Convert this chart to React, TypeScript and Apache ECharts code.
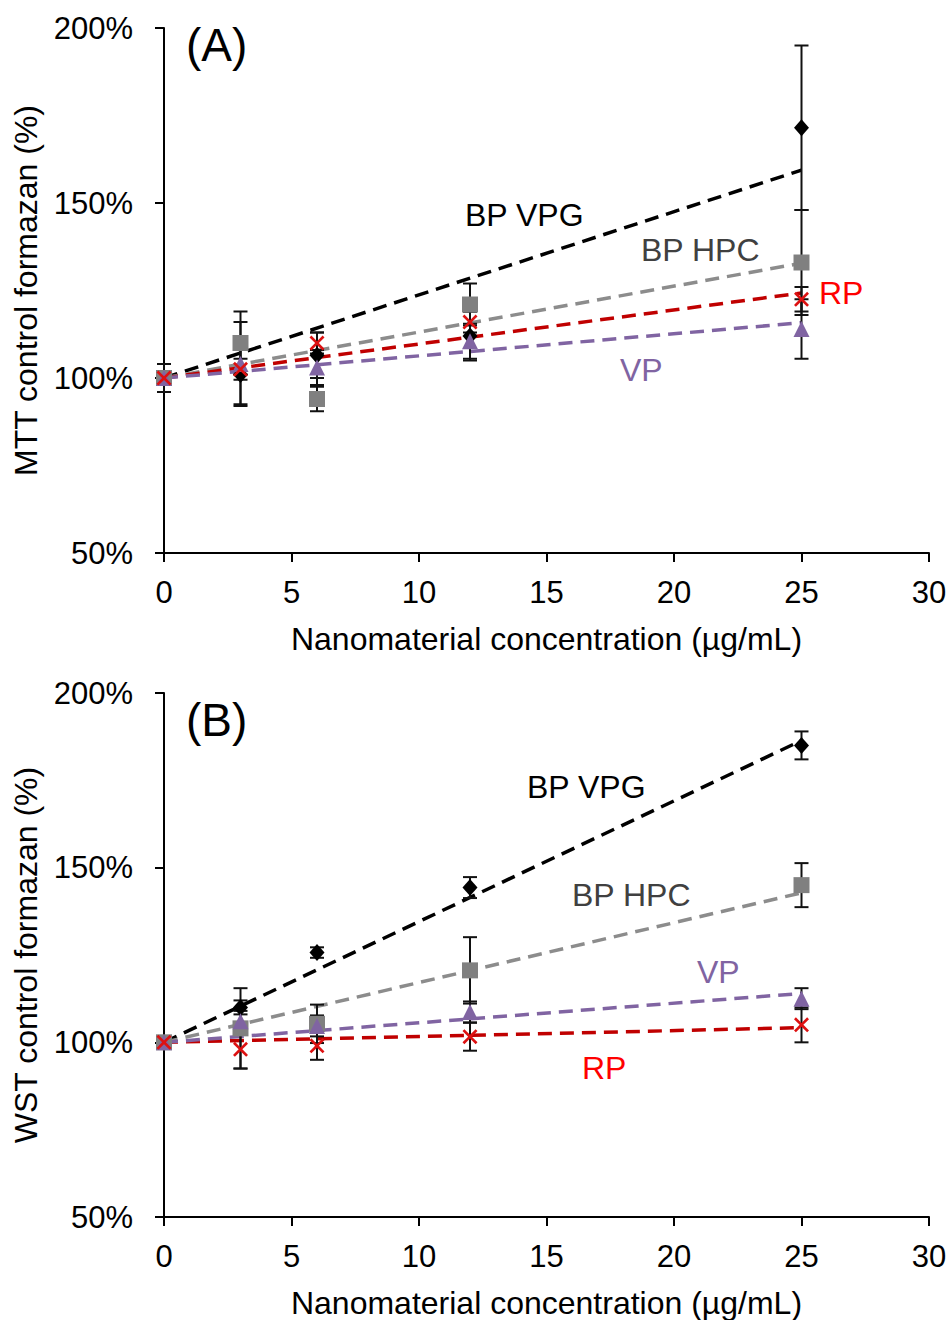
import React, { useEffect, useRef } from "react";
import * as echarts from "echarts";

// ---------- data ----------
const concentrations = [0, 3, 6, 12, 25];
const xTicksMax = 30;
const yMin = 50;
const yMax = 200;

// Panel A (MTT)
const mttVPG = [100, 101, 106.5, 112, 171.5];
const mttVPGErr = [4, 8.5, 6.5, 7, 23.5];
const mttHPC = [100, 110, 94, 121, 133];
const mttHPCErr = [2, 9, 3.5, 6, 15];
const mttRP = [100, 102.5, 110, 116, 122.5];
const mttRPErr = [2, 3, 3, 3, 3.5];
const mttVP = [100, 104, 103, 110.5, 114];
const mttVPErr = [2, 12, 5, 5, 8.5];
const mttTrendEnd = { VPG: 159.4, HPC: 132.8, RP: 124.3, VP: 115.8 };

// Panel B (WST)
const wstVPG = [100, 110, 125.7, 144.3, 185];
const wstVPGErr = [1, 2, 1.5, 3, 4];
const wstHPC = [100, 104, 105.3, 120.6, 145];
const wstHPCErr = [1, 11.5, 5.5, 9.5, 6.3];
const wstRP = [100, 98, 99, 101.6, 105];
const wstRPErr = [1, 5.5, 4, 4, 5];
const wstVP = [100, 106, 104.7, 108.7, 112.5];
const wstVPErr = [1, 3, 3, 3, 3];
const wstTrendEnd = { VPG: 186.4, HPC: 142.8, RP: 104.2, VP: 114 };

const trendStartX = 0;
const trendStartY = 100;
const trendEndX = 25;

const xAxisTitle = "Nanomaterial concentration (µg/mL)";
const yTitleA = "MTT control formazan (%)";
const yTitleB = "WST control formazan (%)";

// ---------- styles ----------
const FONT = "'Liberation Sans', Arial, sans-serif";
const FS = 31;
const FS_TITLE = 32;
const C_BLACK = "#000000";
const C_GRAY = "#808080";
const C_GRAY_LINE = "#8C8C8C";
const C_RED_LINE = "#C00000";
const C_RED_MARK = "#DD1111";
const C_RED_TEXT = "#FF0000";
const C_PURPLE = "#8064A2";
const X_SYMBOL =
  "path://M0,2.5 L2.5,0 L10,7.5 L17.5,0 L20,2.5 L12.5,10 L20,17.5 L17.5,20 L10,12.5 L2.5,20 L0,17.5 L7.5,10 Z";

const zip = (xs: number[], ys: number[]) => xs.map((x, i) => [x, ys[i]]);
const zip3 = (xs: number[], ys: number[], es: number[]) =>
  xs.map((x, i) => [x, ys[i], es[i]]);

function errorSeries(idx: number, ys: number[], es: number[]) {
  return {
    type: "custom",
    xAxisIndex: idx,
    yAxisIndex: idx,
    z: 3,
    data: zip3(concentrations, ys, es),
    encode: { x: 0, y: 1 },
    renderItem: (params: any, api: any) => {
      const x = api.value(0);
      const y = api.value(1);
      const e = api.value(2);
      const top = api.coord([x, y + e]);
      const bot = api.coord([x, y - e]);
      const hw = 7;
      const st = { stroke: "#111", lineWidth: 2 };
      return {
        type: "group",
        children: [
          { type: "line", shape: { x1: top[0], y1: top[1], x2: bot[0], y2: bot[1] }, style: st },
          { type: "line", shape: { x1: top[0] - hw, y1: top[1], x2: top[0] + hw, y2: top[1] }, style: st },
          { type: "line", shape: { x1: bot[0] - hw, y1: bot[1], x2: bot[0] + hw, y2: bot[1] }, style: st },
        ],
      };
    },
  };
}

function trendSeries(idx: number, end: number, color: string) {
  return {
    type: "line",
    xAxisIndex: idx,
    yAxisIndex: idx,
    z: 2,
    showSymbol: false,
    symbol: "none",
    silent: true,
    data: [
      [trendStartX, trendStartY],
      [trendEndX, end],
    ],
    lineStyle: { color, width: 3.5, type: [14, 8] },
  };
}

function markerSeries(idx: number, ys: number[], symbol: string, size: any, color: string) {
  return {
    type: "scatter",
    xAxisIndex: idx,
    yAxisIndex: idx,
    z: 4,
    symbol,
    symbolSize: size,
    data: zip(concentrations, ys),
    itemStyle: { color, opacity: 1 },
  };
}

function panelSeries(
  idx: number,
  d: { VPG: number[]; VPGe: number[]; HPC: number[]; HPCe: number[]; RP: number[]; RPe: number[]; VP: number[]; VPe: number[] },
  t: { VPG: number; HPC: number; RP: number; VP: number }
) {
  return [
    trendSeries(idx, t.VPG, C_BLACK),
    trendSeries(idx, t.HPC, C_GRAY_LINE),
    trendSeries(idx, t.RP, C_RED_LINE),
    trendSeries(idx, t.VP, C_PURPLE),
    errorSeries(idx, d.VPG, d.VPGe),
    errorSeries(idx, d.HPC, d.HPCe),
    errorSeries(idx, d.RP, d.RPe),
    errorSeries(idx, d.VP, d.VPe),
    markerSeries(idx, d.VPG, "diamond", [15, 17], C_BLACK),
    markerSeries(idx, d.HPC, "rect", 16, C_GRAY),
    markerSeries(idx, d.VP, "triangle", 16, C_PURPLE),
    markerSeries(idx, d.RP, X_SYMBOL, 15, C_RED_MARK),
  ];
}

function xAxis(idx: number) {
  return {
    type: "value",
    gridIndex: idx,
    min: 0,
    max: xTicksMax,
    interval: 5,
    name: xAxisTitle,
    nameLocation: "middle",
    nameGap: 70,
    nameTextStyle: { fontSize: FS_TITLE, fontFamily: FONT, color: "#000" },
    axisLine: { onZero: false, lineStyle: { color: "#000", width: 2 } },
    axisTick: { show: true, length: 9, lineStyle: { color: "#000", width: 2 } },
    axisLabel: { fontSize: FS, fontFamily: FONT, color: "#000", margin: 24 },
    splitLine: { show: false },
  };
}

function yAxis(idx: number, name: string) {
  return {
    type: "value",
    gridIndex: idx,
    min: yMin,
    max: yMax,
    interval: 50,
    name,
    nameLocation: "middle",
    nameGap: 122,
    nameTextStyle: { fontSize: FS_TITLE, fontFamily: FONT, color: "#000" },
    axisLine: { onZero: false, lineStyle: { color: "#000", width: 2 } },
    axisTick: { show: true, length: 9, lineStyle: { color: "#000", width: 2 } },
    axisLabel: { fontSize: FS, fontFamily: FONT, color: "#000", margin: 31, formatter: "{value}%" },
    splitLine: { show: false },
  };
}

function label(x: number, y: number, text: string, fill: string, size = FS) {
  return {
    type: "text",
    x,
    y,
    z: 10,
    style: { text, fill, fontSize: size, fontFamily: FONT, align: "left", verticalAlign: "middle" },
  };
}

export default function App() {
  const ref = useRef<HTMLDivElement>(null);
  useEffect(() => {
    document.body.style.margin = "0";
    if (!ref.current) return;
    const chart = echarts.init(ref.current, null, { renderer: "svg" });
    chart.setOption({
      animation: false,
      backgroundColor: "#ffffff",
      textStyle: { fontFamily: FONT },
      grid: [
        { left: 164, right: 22, top: 28, height: 525 },
        { left: 164, right: 22, top: 693, height: 525 },
      ],
      xAxis: [xAxis(0), xAxis(1)],
      yAxis: [yAxis(0, yTitleA), yAxis(1, yTitleB)],
      series: [
        ...panelSeries(
          0,
          { VPG: mttVPG, VPGe: mttVPGErr, HPC: mttHPC, HPCe: mttHPCErr, RP: mttRP, RPe: mttRPErr, VP: mttVP, VPe: mttVPErr },
          mttTrendEnd
        ),
        ...panelSeries(
          1,
          { VPG: wstVPG, VPGe: wstVPGErr, HPC: wstHPC, HPCe: wstHPCErr, RP: wstRP, RPe: wstRPErr, VP: wstVP, VPe: wstVPErr },
          wstTrendEnd
        ),
      ],
      graphic: [
        label(186, 45, "(A)", C_BLACK, 46),
        label(465, 215, "BP VPG", C_BLACK, 32),
        label(641, 250, "BP HPC", "#404040", 32),
        label(819, 293, "RP", C_RED_TEXT, 32),
        label(620, 370, "VP", C_PURPLE, 32),
        label(186, 720, "(B)", C_BLACK, 46),
        label(527, 787, "BP VPG", C_BLACK, 32),
        label(572, 895, "BP HPC", "#404040", 32),
        label(697, 972, "VP", C_PURPLE, 32),
        label(582, 1068, "RP", C_RED_TEXT, 32),
      ],
    });
    return () => chart.dispose();
  }, []);
  return <div ref={ref} style={{ width: 951, height: 1320 }} />;
}
